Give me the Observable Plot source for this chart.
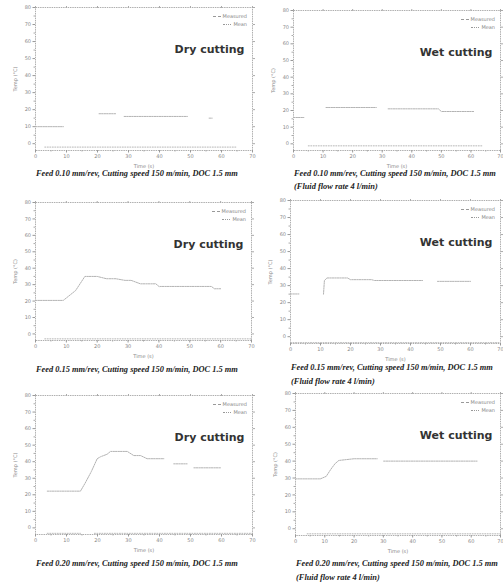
<!DOCTYPE html>
<html>
<head>
<meta charset="utf-8">
<script src="https://cdn.jsdelivr.net/npm/d3@7"></script>
<script src="https://cdn.jsdelivr.net/npm/@observablehq/plot@0.6"></script>
<style>
  html, body { margin: 0; padding: 0; background: #fff; }
  #page { position: relative; width: 503px; height: 584px; overflow: hidden; background: #fff; }
  .cap { position: absolute; font-family: "Liberation Serif", serif; font-style: italic; font-weight: bold;
         font-size: 8.4px; color: #222; white-space: nowrap; line-height: 12px; }
  .leg { position: absolute; font-family: "DejaVu Sans", sans-serif; font-size: 5px; color: #888; line-height: 8px; text-align: right; }
  .leg span.s { display: inline-block; width: 8px; border-top: 1px dotted #999; vertical-align: middle; margin-right: 2px; }
</style>
</head>
<body>
<div id="page"></div>
<script>
// ---- data ----
const xTicks = [0, 10, 20, 30, 40, 50, 60, 70];
const xMinor = [5, 15, 25, 35, 45, 55, 65];
const yTicks = [0, 10, 20, 30, 40, 50, 60, 70, 80];
const yMinor = [5, 15, 25, 35, 45, 55, 65, 75];
const xLabel = "Time (s)";
const yLabel = "Temp (°C)";
const legendNames = ["Measured", "Mean"];
const notes = ["Dry cutting", "Wet cutting", "Dry cutting", "Wet cutting", "Dry cutting", "Wet cutting"];
const captions = [
  ["Feed 0.10 mm/rev, Cutting speed 150 m/min, DOC 1.5 mm"],
  ["Feed 0.10 mm/rev, Cutting speed 150 m/min, DOC 1.5 mm", "(Fluid flow rate 4 l/min)"],
  ["Feed 0.15 mm/rev, Cutting speed 150 m/min, DOC 1.5 mm"],
  ["Feed 0.15 mm/rev, Cutting speed 150 m/min, DOC 1.5 mm", "(Fluid flow rate 4 l/min)"],
  ["Feed 0.20 mm/rev, Cutting speed 150 m/min, DOC 1.5 mm"],
  ["Feed 0.20 mm/rev, Cutting speed 150 m/min, DOC 1.5 mm", "(Fluid flow rate 4 l/min)"]
];

// measured series (null = gap)
const p1Time = [0, 9, 9.5, 20.5, 26, 27, 28.6, 49, 50, 56, 57];
const p1Temp = [10, 10, null, 17.6, 17.6, null, 16, 16, null, 15, 15];
const p2Time = [0, 3.5, 5, 11, 28, 30, 32, 49, 50, 61];
const p2Temp = [15.8, 15.8, null, 21.8, 21.8, null, 21, 21, 19.4, 19.4];
const p3Time = [0, 9, 13, 16, 20, 23, 26, 29, 31, 34, 39, 40, 57, 58, 60];
const p3Temp = [20.4, 20.4, 26.4, 35, 35, 33.6, 33.6, 32.6, 32.6, 30.5, 30.5, 28.9, 28.9, 27.5, 27.5];
const p4Time = [0, 2.8, 6, 11, 11.3, 12.2, 19, 20, 27, 28, 44, 46, 49, 60];
const p4Temp = [25.1, 25.1, null, 25, 33, 34.5, 34.5, 33.5, 33.5, 33, 33, null, 32.5, 32.5];
const p5Time = [3.8, 14.5, 16, 18, 19.9, 21, 23.1, 24.2, 29.6, 31.7, 33.9, 36, 41.4, 43, 44.6, 48.9, 50, 51.1, 59.7];
const p5Temp = [22.2, 22.2, 27, 34, 41.8, 43, 44.5, 46.2, 46.2, 43.7, 43.7, 41.8, 41.8, null, 38.7, 38.7, null, 36.3, 36.3];
const p6Time = [0, 8.5, 10.5, 12, 13.5, 14.8, 20, 27.9, 29, 30.1, 62];
const p6Temp = [29.5, 29.5, 31, 35, 38.5, 40.4, 41.4, 41.4, null, 40, 40];

// mean / baseline series
const b1Time = [3, 20, 40, 65];      const b1Temp = [-2, -2, -2, -2];
const b2Time = [5, 25, 45, 64];      const b2Temp = [-1.2, -1.2, -1.2, -1.2];
const b3Time = [3, 25, 45, 70];      const b3Temp = [-3, -3, -3, -3];
const b4Time = [0, 30, 70];          const b4Temp = [-3.5, -3.5, -3.5];
const b5Time = [3.8, 14.5, 17, 19, 45, 70]; const b5Temp = [-3.3, -3.3, null, -3.3, -3.3, -3.3];
const b6Time = [4, 30, 70];          const b6Temp = [-3, -3, -3];

// ---- layout (frame edges in page pixels) ----
const frames = [
  {l: 35,  t: 7,   r: 252, b: 150},
  {l: 293, t: 10,  r: 500, b: 150},
  {l: 35,  t: 202, r: 251, b: 340},
  {l: 290, t: 200, r: 500, b: 343},
  {l: 35,  t: 395, r: 252, b: 534},
  {l: 295, t: 393, r: 500, b: 535}
];
const capTops = [[168], [168, 181], [364], [362, 376], [558], [558, 572]];
const series = [
  [p1Time, p1Temp, b1Time, b1Temp],
  [p2Time, p2Temp, b2Time, b2Temp],
  [p3Time, p3Temp, b3Time, b3Temp],
  [p4Time, p4Temp, b4Time, b4Temp],
  [p5Time, p5Temp, b5Time, b5Temp],
  [p6Time, p6Temp, b6Time, b6Temp]
];

const page = document.getElementById("page");
const mL = 30, mR = 4, mT = 4, mB = 22;

frames.forEach((f, i) => {
  const [tA, vA, tB, vB] = series[i];
  const dataA = tA.map((t, k) => ({t, v: vA[k]}));
  const dataB = tB.map((t, k) => ({t, v: vB[k]}));
  const plot = Plot.plot({
    width: f.r - f.l + mL + mR,
    height: f.b - f.t + mT + mB,
    marginLeft: mL, marginRight: mR, marginTop: mT, marginBottom: mB,
    style: {fontFamily: "DejaVu Sans, sans-serif", fontSize: "5px", color: "#888", background: "transparent", overflow: "visible"},
    x: {domain: [0, 70]},
    y: {domain: [-4, 80]},
    marks: [
      Plot.frame({stroke: "#9a9a9a", strokeWidth: 0.8, strokeDasharray: "1.5,0.8"}),
      Plot.axisX({ticks: xTicks, tickSize: 2.5, tickPadding: 1.5, label: xLabel, labelAnchor: "center", labelOffset: 17, labelArrow: "none", stroke: "#999"}),
      Plot.axisX({ticks: xMinor, tickSize: 1.5, tickFormat: () => "", label: null, stroke: "#aaa"}),
      Plot.axisX({anchor: "top", ticks: xTicks, tickSize: 2, tickFormat: () => "", label: null, stroke: "#aaa"}),
      Plot.axisY({ticks: yTicks, tickSize: 2.5, tickPadding: 2, label: yLabel, labelAnchor: "center", labelOffset: 22, labelArrow: "none", stroke: "#999"}),
      Plot.axisY({ticks: yMinor, tickSize: 1.5, tickFormat: () => "", label: null, stroke: "#aaa"}),
      Plot.axisY({anchor: "right", ticks: yTicks, tickSize: 2, tickFormat: () => "", label: null, stroke: "#aaa"}),
      Plot.line(dataB, {x: "t", y: "v", stroke: "#b0b0b0", strokeWidth: 0.9, strokeDasharray: "1,1.5"}),
      Plot.line(dataA, {x: "t", y: "v", stroke: "#b3b3b3", strokeWidth: 1, strokeDasharray: "1.5,1"}),
      Plot.text([notes[i]], {frameAnchor: "top-right", dx: -8, dy: 38, fontSize: 11, fill: "#333", fontWeight: 600, fontFamily: "DejaVu Sans, sans-serif", letterSpacing: "0.3px"})
    ]
  });
  plot.style.position = "absolute";
  plot.style.left = (f.l - mL) + "px";
  plot.style.top = (f.t - mT) + "px";
  page.appendChild(plot);

  // legend
  const leg = document.createElement("div");
  leg.className = "leg";
  leg.style.left = (f.r - 50) + "px";
  leg.style.width = "45px";
  leg.style.top = (f.t + 5) + "px";
  leg.innerHTML = legendNames.map((n, k) => `<div><span class="s" style="border-top-style:${k ? "dotted" : "dashed"}"></span>${n}</div>`).join("");
  page.appendChild(leg);

  // caption
  captions[i].forEach((line, k) => {
    const c = document.createElement("div");
    c.className = "cap";
    c.textContent = line;
    c.style.left = (f.l + 1) + "px";
    c.style.top = capTops[i][k] + "px";
    page.appendChild(c);
  });
});
</script>
</body>
</html>
